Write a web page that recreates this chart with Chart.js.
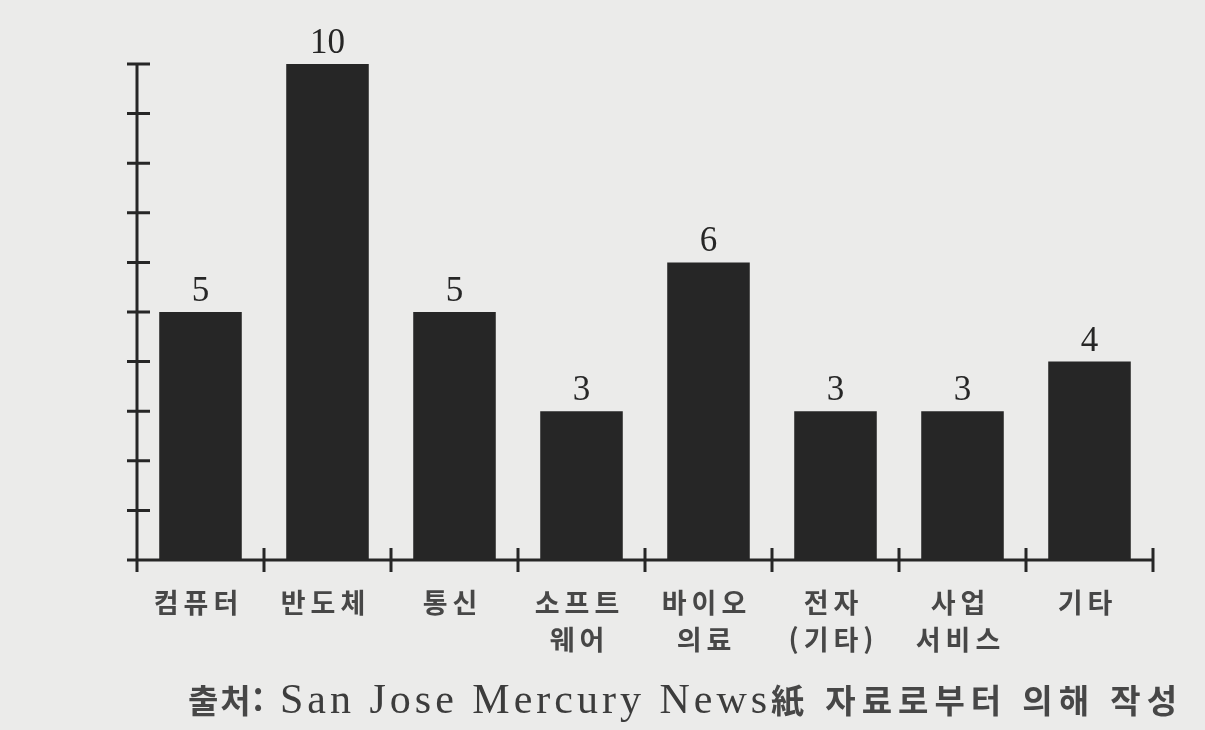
<!DOCTYPE html>
<html lang="ko">
<head>
<meta charset="utf-8">
<script src="https://cdn.jsdelivr.net/npm/chart.js@4.4.1/dist/chart.umd.min.js"></script>
<style>
  html, body { margin: 0; padding: 0; background: #ebebea; }
  #wrap { position: relative; width: 1205px; height: 730px; }
  #source {
    position: absolute; left: 188px; top: 675px;
    font-family: "Liberation Serif", "Noto Sans CJK KR", serif;
    font-size: 42px; color: #3c3c3c; white-space: nowrap; letter-spacing: 4px;
  }
  #source .ko { font-family: "Noto Sans CJK KR", sans-serif; font-size: 33px; font-weight: bold; letter-spacing: 6px; color: #474747; }
  #source .lead { letter-spacing: 2px; }
</style>
</head>
<body>
<div id="wrap">
  <canvas id="barChart" width="1205" height="730"></canvas>
  <div id="source"><span class="ko lead">출처:</span> San Jose Mercury News<span class="ko">紙 자료로부터 의해 작성</span></div>
</div>
<script>
// categories (multi-line labels as arrays) and counts per category
const categories = [['컴퓨터'], ['반도체'], ['통신'], ['소프트', '웨어'], ['바이오', '의료'], ['전자', '(기타)'], ['사업', '서비스'], ['기타']];
const counts = [5, 10, 5, 3, 6, 3, 3, 4];
const yMax = 10;

const inkColor = '#262626';

// draws the axes with crossing tick marks, then the value above each bar
const axesAndValues = {
    id: 'axesAndValues',
    beforeDraw(chart) {
        chart.ctx.letterSpacing = '5px'; // spaced-out category labels
    },
    afterDatasetsDraw(chart) {
        const { ctx, scales: { x, y } } = chart;
        const left = x.left;
        const right = x.right;
        const base = y.getPixelForValue(0);
        ctx.save();
        ctx.letterSpacing = '0px';
        ctx.strokeStyle = inkColor;
        ctx.lineWidth = 3;
        ctx.beginPath();
        ctx.moveTo(left, y.getPixelForValue(yMax));
        ctx.lineTo(left, base + 12);
        ctx.moveTo(left, base);
        ctx.lineTo(right, base);
        y.ticks.forEach(t => {
            const py = y.getPixelForValue(t.value);
            ctx.moveTo(left - 10, py);
            ctx.lineTo(left + 13, py);
        });
        for (let i = 0; i < categories.length; i++) {
            const px = x.getPixelForValue(i + 0.5);
            ctx.moveTo(px, base - 12);
            ctx.lineTo(px, base + 12);
        }
        ctx.stroke();

        ctx.fillStyle = inkColor;
        ctx.font = '35px "Liberation Serif", serif';
        ctx.textAlign = 'center';
        ctx.textBaseline = 'alphabetic';
        chart.getDatasetMeta(0).data.forEach((bar, i) => {
            ctx.fillText(String(counts[i]), bar.x, bar.y - 11);
        });
        ctx.restore();
    },
    afterDraw(chart) {
        chart.ctx.letterSpacing = '0px';
    }
};

const ctx = document.getElementById('barChart').getContext('2d');
const barChart = new Chart(ctx, {
    type: 'bar',
    data: {
        labels: categories,
        datasets: [{
            data: counts,
            backgroundColor: inkColor,
            borderWidth: 0,
            barPercentage: 0.65,
            categoryPercentage: 1
        }]
    },
    options: {
        responsive: false,
        animation: false,
        events: [],
        layout: { padding: { left: 137, right: 52, top: 64, bottom: 56 } },
        plugins: {
            legend: { display: false },
            tooltip: { enabled: false }
        },
        scales: {
            x: {
                grid: { display: false },
                border: { display: false },
                ticks: {
                    color: '#474747',
                    font: { family: '"Noto Sans CJK KR", sans-serif', size: 27, weight: 'bold', lineHeight: 1.37 },
                    padding: 16,
                    labelOffset: -2,
                    maxRotation: 0,
                    autoSkip: false
                }
            },
            y: {
                display: false,
                min: 0,
                max: yMax,
                ticks: { stepSize: 1 }
            }
        }
    },
    plugins: [axesAndValues]
});
</script>
</body>
</html>
